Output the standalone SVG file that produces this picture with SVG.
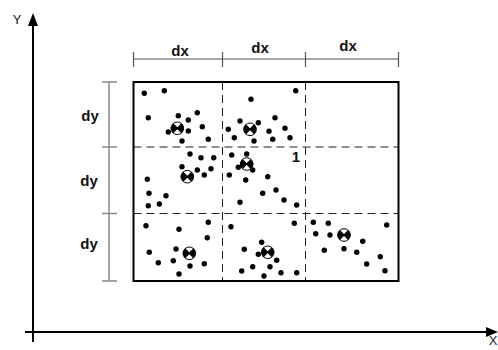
<svg xmlns="http://www.w3.org/2000/svg" width="498" height="350" viewBox="0 0 498 350">
<defs>
<style>
.axis{stroke:#000;stroke-width:2;fill:none}
.dim{stroke:#555;stroke-width:1.2;fill:none}
.dimy{stroke:#888;stroke-width:1.5;fill:none}
.grid{stroke:#222;stroke-width:1;stroke-dasharray:8,5;fill:none}
.lbl{font-family:"Liberation Sans",Arial,sans-serif;font-weight:bold;font-size:15px;fill:#111;text-anchor:middle}
.ax{font-family:"Liberation Sans",Arial,sans-serif;font-size:13px;fill:#222;text-anchor:middle}
.d{fill:#000}
</style>
<g id="sym">
<circle cx="0" cy="0" r="6.3" fill="#fff" stroke="#000" stroke-width="1"/>
<path d="M-4.5,-4.5 L4.5,4.5 M-4.5,4.5 L4.5,-4.5" stroke="#000" stroke-width="1.3"/>
<path d="M0,0 L-4.8,-4 A6.2,6.2 0 0 0 -4.8,4 Z M0,0 L4.8,-4 A6.2,6.2 0 0 1 4.8,4 Z" fill="#000"/>
</g>
</defs>
<rect width="498" height="350" fill="#fff"/>
<g id="axes">
<line class="axis" x1="33" y1="24" x2="33" y2="342"/>
<polygon points="33,13 28,26 38,26" fill="#000"/>
<line class="axis" x1="25" y1="332" x2="488" y2="332"/>
<polygon points="498,332 486,327 486,337" fill="#000"/>
<text class="ax" x="17" y="24">Y</text>
<text class="ax" x="493" y="345" font-size="10" text-anchor="end">X</text>
</g>
<g id="dims">
<line class="dim" x1="133.5" y1="59" x2="398.5" y2="59"/>
<line class="dim" x1="133.5" y1="52" x2="133.5" y2="67"/>
<line class="dim" x1="222.5" y1="52" x2="222.5" y2="67"/>
<line class="dim" x1="305.5" y1="52" x2="305.5" y2="67"/>
<line class="dim" x1="398.5" y1="52" x2="398.5" y2="67"/>
<text class="lbl" x="180" y="56">dx</text>
<text class="lbl" x="260" y="53">dx</text>
<text class="lbl" x="348" y="51">dx</text>
<line class="dimy" x1="109" y1="82" x2="109" y2="281"/>
<line class="dimy" x1="102" y1="82" x2="117" y2="82"/>
<line class="dimy" x1="102" y1="147" x2="117" y2="147"/>
<line class="dimy" x1="102" y1="213.5" x2="117" y2="213.5"/>
<line class="dimy" x1="102" y1="281" x2="117" y2="281"/>
<text class="lbl" x="90" y="121">dy</text>
<text class="lbl" x="89" y="186">dy</text>
<text class="lbl" x="89" y="249">dy</text>
</g>
<g id="grid">
<line class="grid" x1="222.5" y1="82" x2="222.5" y2="281"/>
<line class="grid" x1="305.5" y1="82" x2="305.5" y2="281"/>
<line class="grid" x1="133.5" y1="147" x2="398.5" y2="147"/>
<line class="grid" x1="133.5" y1="213.5" x2="398.5" y2="213.5"/>
<rect x="133.5" y="82" width="265" height="199" fill="none" stroke="#000" stroke-width="2"/>
<text class="lbl" x="296" y="162" font-size="13">1</text>
</g>
<g id="points">
<circle class="d" cx="144.3" cy="93.3" r="2.7"/>
<circle class="d" cx="164.3" cy="90.7" r="2.7"/>
<circle class="d" cx="148.3" cy="117.7" r="2.7"/>
<circle class="d" cx="178.3" cy="115.7" r="2.7"/>
<circle class="d" cx="197.3" cy="112.7" r="2.7"/>
<circle class="d" cx="188.3" cy="120" r="2.7"/>
<circle class="d" cx="202.3" cy="126.7" r="2.7"/>
<circle class="d" cx="168.3" cy="132" r="2.7"/>
<circle class="d" cx="188.3" cy="131" r="2.7"/>
<circle class="d" cx="182" cy="141" r="2.7"/>
<circle class="d" cx="208.3" cy="139.3" r="2.7"/>
<circle class="d" cx="295.7" cy="90.7" r="2.7"/>
<circle class="d" cx="251" cy="99.3" r="2.7"/>
<circle class="d" cx="240" cy="121" r="2.7"/>
<circle class="d" cx="258.3" cy="122.7" r="2.7"/>
<circle class="d" cx="275" cy="117.7" r="2.7"/>
<circle class="d" cx="228.3" cy="129.3" r="2.7"/>
<circle class="d" cx="269" cy="131.3" r="2.7"/>
<circle class="d" cx="285" cy="128.3" r="2.7"/>
<circle class="d" cx="234.3" cy="137.7" r="2.7"/>
<circle class="d" cx="254" cy="141" r="2.7"/>
<circle class="d" cx="272.7" cy="139.3" r="2.7"/>
<circle class="d" cx="290" cy="137.7" r="2.7"/>
<circle class="d" cx="246.7" cy="154" r="2.7"/>
<circle class="d" cx="231.7" cy="155" r="2.7"/>
<circle class="d" cx="238.3" cy="167.3" r="2.7"/>
<circle class="d" cx="252.7" cy="170" r="2.7"/>
<circle class="d" cx="229.3" cy="175" r="2.7"/>
<circle class="d" cx="245.7" cy="180" r="2.7"/>
<circle class="d" cx="267.7" cy="176.7" r="2.7"/>
<circle class="d" cx="276" cy="190" r="2.7"/>
<circle class="d" cx="262.7" cy="193.3" r="2.7"/>
<circle class="d" cx="284" cy="200" r="2.7"/>
<circle class="d" cx="296.7" cy="205" r="2.7"/>
<circle class="d" cx="240" cy="202.3" r="2.7"/>
<circle class="d" cx="190" cy="154" r="2.7"/>
<circle class="d" cx="201" cy="157.7" r="2.7"/>
<circle class="d" cx="213.7" cy="157.7" r="2.7"/>
<circle class="d" cx="182" cy="166.7" r="2.7"/>
<circle class="d" cx="197.3" cy="170" r="2.7"/>
<circle class="d" cx="211" cy="168.7" r="2.7"/>
<circle class="d" cx="204.3" cy="175" r="2.7"/>
<circle class="d" cx="147.3" cy="179.3" r="2.7"/>
<circle class="d" cx="149" cy="193.3" r="2.7"/>
<circle class="d" cx="166" cy="195.7" r="2.7"/>
<circle class="d" cx="148.3" cy="205.7" r="2.7"/>
<circle class="d" cx="159.3" cy="204" r="2.7"/>
<circle class="d" cx="146" cy="225.7" r="2.7"/>
<circle class="d" cx="179" cy="229.3" r="2.7"/>
<circle class="d" cx="208.3" cy="222.3" r="2.7"/>
<circle class="d" cx="207.3" cy="237.7" r="2.7"/>
<circle class="d" cx="149.3" cy="252.3" r="2.7"/>
<circle class="d" cx="176" cy="249" r="2.7"/>
<circle class="d" cx="158.3" cy="262.7" r="2.7"/>
<circle class="d" cx="173.3" cy="260.7" r="2.7"/>
<circle class="d" cx="190" cy="266" r="2.7"/>
<circle class="d" cx="204.3" cy="263.7" r="2.7"/>
<circle class="d" cx="179" cy="274" r="2.7"/>
<circle class="d" cx="231" cy="226.7" r="2.7"/>
<circle class="d" cx="294.3" cy="223.3" r="2.7"/>
<circle class="d" cx="261.7" cy="242.3" r="2.7"/>
<circle class="d" cx="244.3" cy="249.3" r="2.7"/>
<circle class="d" cx="258.3" cy="254.3" r="2.7"/>
<circle class="d" cx="276.7" cy="260.3" r="2.7"/>
<circle class="d" cx="252.7" cy="266.7" r="2.7"/>
<circle class="d" cx="270" cy="266.7" r="2.7"/>
<circle class="d" cx="241.7" cy="271" r="2.7"/>
<circle class="d" cx="264" cy="276" r="2.7"/>
<circle class="d" cx="281" cy="272.7" r="2.7"/>
<circle class="d" cx="296.7" cy="272.7" r="2.7"/>
<circle class="d" cx="313.3" cy="222.3" r="2.7"/>
<circle class="d" cx="328.3" cy="223.3" r="2.7"/>
<circle class="d" cx="315.7" cy="233.7" r="2.7"/>
<circle class="d" cx="330" cy="235" r="2.7"/>
<circle class="d" cx="386.7" cy="225" r="2.7"/>
<circle class="d" cx="362.7" cy="241.3" r="2.7"/>
<circle class="d" cx="324.3" cy="250.3" r="2.7"/>
<circle class="d" cx="344" cy="248.7" r="2.7"/>
<circle class="d" cx="356.7" cy="252.3" r="2.7"/>
<circle class="d" cx="366.7" cy="264" r="2.7"/>
<circle class="d" cx="380.3" cy="256.7" r="2.7"/>
<circle class="d" cx="385" cy="270.7" r="2.7"/>
</g>
<g id="centres">
<use href="#sym" x="177.3" y="128.3"/>
<use href="#sym" x="250" y="129.3"/>
<use href="#sym" x="246.7" y="164"/>
<use href="#sym" x="187.3" y="176.7"/>
<use href="#sym" x="189.3" y="253.3"/>
<use href="#sym" x="267.7" y="252.3"/>
<use href="#sym" x="344" y="235"/>
</g>
</svg>
